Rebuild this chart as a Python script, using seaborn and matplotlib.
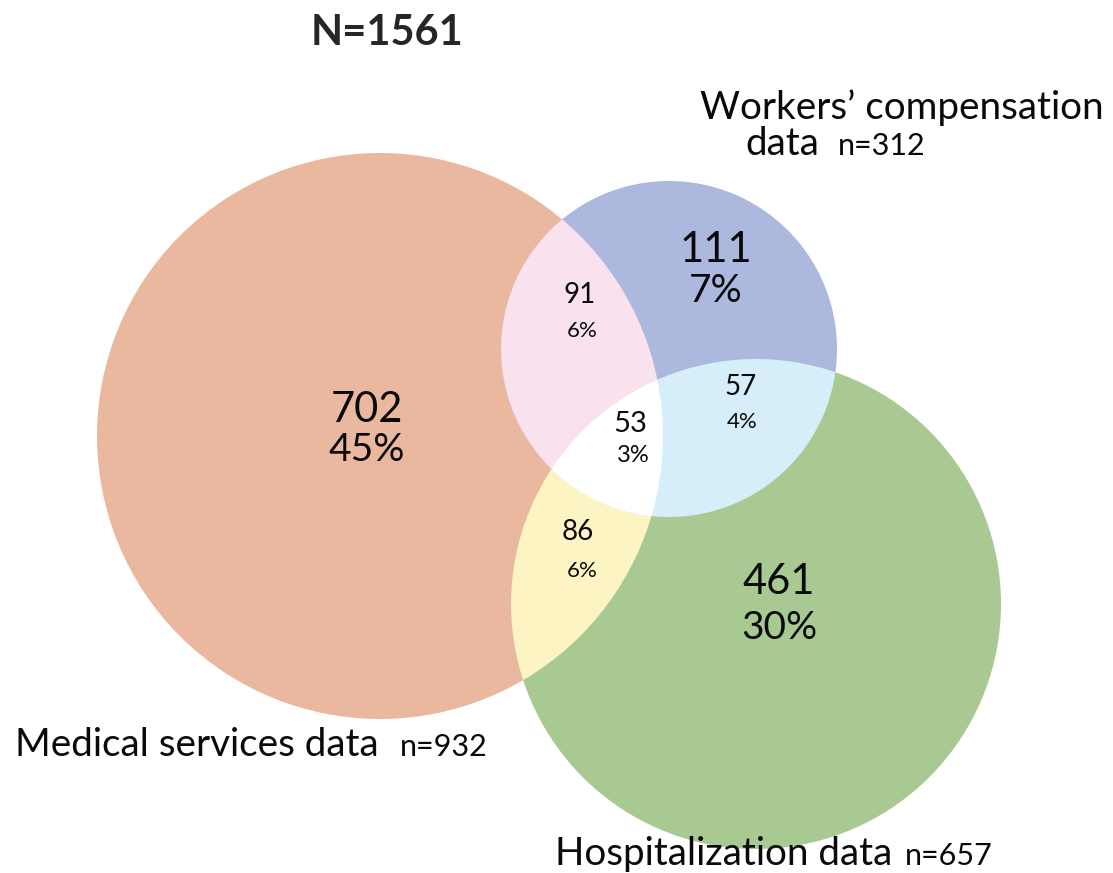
import numpy as np
import matplotlib
matplotlib.use("Agg")
import matplotlib.pyplot as plt
from matplotlib.patches import Circle, Polygon
import seaborn as sns

# data
total_n = 1561
set_names = ["Medical services data", "Workers\u2019 compensation\ndata", "Hospitalization data"]
set_sizes = [932, 312, 657]
region_keys = ["M", "W", "H", "MW", "MH", "WH", "MWH"]
region_counts = [702, 111, 461, 91, 86, 57, 53]
region_pcts = ["45%", "7%", "30%", "6%", "6%", "4%", "3%"]

sns.set_theme(style="white")
plt.rcParams["font.family"] = ["Lato", "DejaVu Sans"]

fig = plt.figure(figsize=(11.13, 8.73), dpi=100)
ax = fig.add_axes([0, 0, 1, 1])
ax.set_xlim(0, 1113)
ax.set_ylim(873, 0)
ax.set_aspect("equal")
ax.axis("off")

# circle geometry (pixel space)
centers = {"M": (380, 436), "W": (669, 349), "H": (756, 604)}
radii = {"M": 283, "W": 168, "H": 245}
base_cols = {"M": "#E9B89E", "W": "#ADB8DE", "H": "#A9C993"}

circ = {}
for k in ["M", "W", "H"]:
    c = Circle(centers[k], radii[k], facecolor=base_cols[k], edgecolor="none", zorder=1)
    ax.add_patch(c)
    circ[k] = c


def clipped(k, color, clip_to, z):
    p = Circle(centers[k], radii[k], facecolor=color, edgecolor="none", zorder=z)
    ax.add_patch(p)
    p.set_clip_path(circ[clip_to])


clipped("W", "#F9E1EE", "M", 2)   # medical & workers
clipped("H", "#FDF4C4", "M", 2)   # medical & hosp
clipped("H", "#D6EEFA", "W", 3)   # workers & hosp


# lens of W and H, clipped to M -> triple overlap
def inside(pts, k):
    cx, cy = centers[k]
    return (pts[:, 0] - cx) ** 2 + (pts[:, 1] - cy) ** 2 <= radii[k] ** 2 + 1e-6


t = np.linspace(0, 2 * np.pi, 1440, endpoint=False)
pts = []
for a, b in [("W", "H"), ("H", "W")]:
    cx, cy = centers[a]
    ring = np.column_stack([cx + radii[a] * np.cos(t), cy + radii[a] * np.sin(t)])
    pts.append(ring[inside(ring, b)])
pts = np.vstack(pts)
mid = pts.mean(axis=0)
pts = pts[np.argsort(np.arctan2(pts[:, 1] - mid[1], pts[:, 0] - mid[0]))]
lens = Polygon(pts, closed=True, facecolor="white", edgecolor="none", zorder=4)
ax.add_patch(lens)
lens.set_clip_path(circ["M"])

# region labels
num_pos = {"M": (367, 410), "W": (716, 250), "H": (779, 582),
           "MW": (580, 295), "MH": (578, 532), "WH": (741, 387), "MWH": (630, 424)}
pct_pos = {"M": (367, 450), "W": (716, 291), "H": (779, 628),
           "MW": (582, 331), "MH": (582, 571), "WH": (742, 422), "MWH": (633, 455)}
num_size = {"M": 30, "W": 30, "H": 30, "MW": 20, "MH": 20, "WH": 20, "MWH": 21}
pct_size = {"M": 28, "W": 28, "H": 28, "MW": 16, "MH": 16, "WH": 16, "MWH": 17}

for key, cnt, pct in zip(region_keys, region_counts, region_pcts):
    ax.text(*num_pos[key], str(cnt), fontsize=num_size[key], ha="center", va="center",
            color="#0a0a0a", zorder=5)
    ax.text(*pct_pos[key], pct, fontsize=pct_size[key], ha="center", va="center",
            color="#0a0a0a", zorder=5)

# titles
ax.text(387, 33, f"N={total_n}", fontsize=30, fontweight="bold", ha="center", va="center")

lab = 27.8
small = 22
ax.text(15, 756, set_names[0], fontsize=lab, ha="left", va="baseline", color="#0a0a0a")
ax.text(400, 756, f"n={set_sizes[0]}", fontsize=small, ha="left", va="baseline", color="#0a0a0a")

ax.text(700, 119, set_names[1].split("\n")[0], fontsize=lab, ha="left", va="baseline", color="#0a0a0a")
ax.text(745, 155, set_names[1].split("\n")[1], fontsize=lab, ha="left", va="baseline", color="#0a0a0a")
ax.text(838, 155, f"n={set_sizes[1]}", fontsize=small, ha="left", va="baseline", color="#0a0a0a")

ax.text(555, 865, set_names[2], fontsize=lab, ha="left", va="baseline", color="#0a0a0a")
ax.text(905, 865, f"n={set_sizes[2]}", fontsize=small, ha="left", va="baseline", color="#0a0a0a")

fig.savefig("out.png", dpi=100, facecolor="white")
